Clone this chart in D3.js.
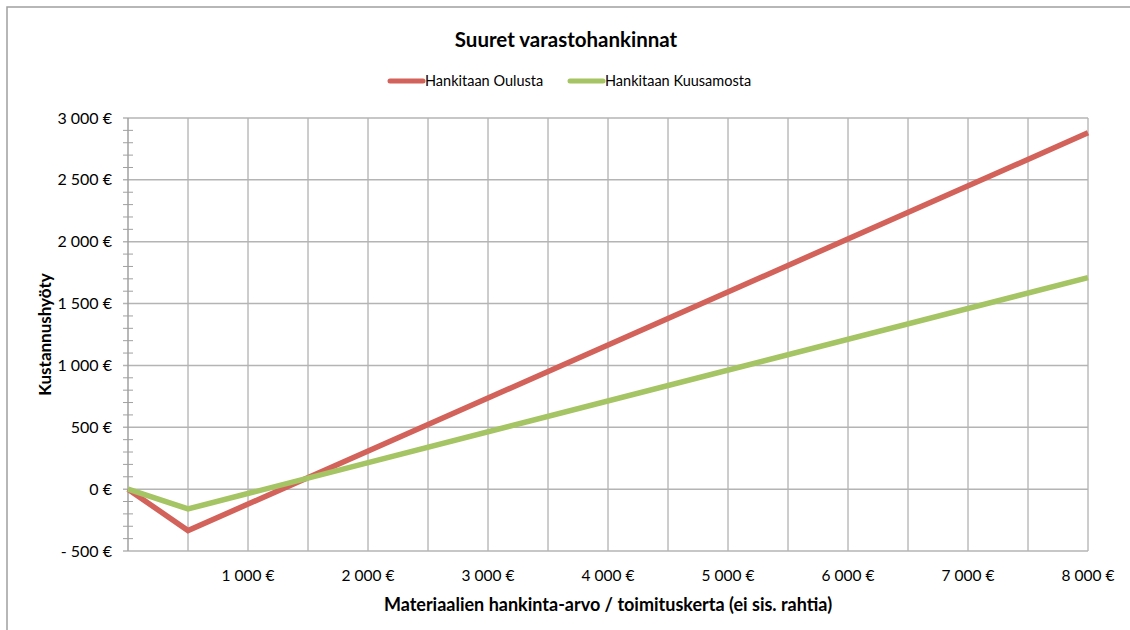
<html>
<head>
<style>
  body { margin: 0; background: #fff; }
  text { font-family: Lato, "Open Sans", sans-serif; fill: #000; }
</style>
</head>
<body>
<script src="https://d3js.org/d3.v7.min.js"></script>
<script>

    // data
    var xValues = [0, 500, 8000];
    var oulusta = [0, -335, 2880];
    var kuusamosta = [0, -160, 1710];
    var seriesNames = ["Hankitaan Oulusta", "Hankitaan Kuusamosta"];
    var seriesColors = ["#d2625a", "#a5c463"];
    var yTicks = [-500, 0, 500, 1000, 1500, 2000, 2500, 3000];
    var xTickLabels = [1000, 2000, 3000, 4000, 5000, 6000, 7000, 8000];

    var width = 1130, height = 630;
    var margin = {left: 128, right: 42, top: 118, bottom: 79};

    var svg = d3.select("body").append("svg").attr("width", width).attr("height", height);

    // outer chart border (only top and left are visible in the frame)
    svg.append("rect").attr("x", 7).attr("y", 7).attr("width", width).attr("height", height)
        .attr("fill", "none").attr("stroke", "#a0a0a0").attr("stroke-width", 1.5);

    var x = d3.scaleLinear().domain([0, 8000]).range([margin.left, width - margin.right]);
    var y = d3.scaleLinear().domain([-500, 3000]).range([height - margin.bottom, margin.top]);

    var fmt = function (v) {
        var s = d3.format(",")(Math.abs(v)).replace(/,/g, " ");
        return (v < 0 ? "- " : "") + s + " €";
    };

    // vertical gridlines every 500
    svg.append("g").selectAll("line").data(d3.range(500, 8001, 500)).enter().append("line")
        .attr("x1", function (d) { return x(d); }).attr("x2", function (d) { return x(d); })
        .attr("y1", y(3000)).attr("y2", y(-500))
        .attr("stroke", "#9a9a9a").attr("stroke-width", 1);

    // horizontal gridlines
    svg.append("g").selectAll("line").data(yTicks).enter().append("line")
        .attr("x1", x(0) - 5).attr("x2", x(8000))
        .attr("y1", function (d) { return y(d); }).attr("y2", function (d) { return y(d); })
        .attr("stroke", "#b4b4b4").attr("stroke-width", 1.5);

    // minor ticks on y axis
    svg.append("g").selectAll("line").data(d3.range(-400, 3000, 100).filter(function (d) { return d % 500 !== 0; }))
        .enter().append("line")
        .attr("x1", x(0) - 5).attr("x2", x(0) + 5)
        .attr("y1", function (d) { return y(d); }).attr("y2", function (d) { return y(d); })
        .attr("stroke", "#a0a0a0").attr("stroke-width", 1);

    // y axis line
    svg.append("line").attr("x1", x(0)).attr("x2", x(0)).attr("y1", y(3000)).attr("y2", y(-500))
        .attr("stroke", "#a0a0a0").attr("stroke-width", 1.5);

    // y tick labels
    svg.append("g").selectAll("text").data(yTicks).enter().append("text")
        .attr("x", x(0) - 16).attr("y", function (d) { return y(d); })
        .attr("dy", "0.35em").attr("text-anchor", "end")
        .style("font-size", "16px")
        .text(fmt);

    // x tick labels
    svg.append("g").selectAll("text").data(xTickLabels).enter().append("text")
        .attr("x", function (d) { return x(d); }).attr("y", y(-500) + 25)
        .attr("dy", "0.35em").attr("text-anchor", "middle")
        .style("font-size", "15.5px")
        .text(fmt);

    // lines
    var line = d3.line()
        .x(function (d) { return x(d[0]); })
        .y(function (d) { return y(d[1]); });

    [oulusta, kuusamosta].forEach(function (vals, i) {
        svg.append("path")
            .datum(xValues.map(function (v, j) { return [v, vals[j]]; }))
            .attr("d", line)
            .attr("fill", "none")
            .attr("stroke", seriesColors[i])
            .attr("stroke-width", 5.5)
            .attr("stroke-linejoin", "miter");
    });

    // title
    svg.append("text").attr("x", 566).attr("y", 40).attr("dy", "0.35em")
        .attr("text-anchor", "middle").style("font-size", "20.5px").style("font-weight", "bold")
        .text("Suuret varastohankinnat");

    // legend
    var legendX = [390, 570];
    seriesNames.forEach(function (name, i) {
        svg.append("line").attr("x1", legendX[i]).attr("x2", legendX[i] + 33)
            .attr("y1", 81).attr("y2", 81)
            .attr("stroke", seriesColors[i]).attr("stroke-width", 5).attr("stroke-linecap", "round");
        svg.append("text").attr("x", legendX[i] + 35).attr("y", 81).attr("dy", "0.35em")
            .style("font-size", "14.5px").text(name);
    });

    // axis titles
    svg.append("text")
        .attr("transform", "translate(45," + ((y(3000) + y(-500)) / 2) + ") rotate(-90)")
        .attr("dy", "0.35em").attr("text-anchor", "middle")
        .style("font-size", "17px").style("font-weight", "bold")
        .text("Kustannushyöty");

    svg.append("text").attr("x", (x(0) + x(8000)) / 2).attr("y", 605).attr("dy", "0.35em")
        .attr("text-anchor", "middle").style("font-size", "18px").style("font-weight", "bold")
        .text("Materiaalien hankinta-arvo / toimituskerta (ei sis. rahtia)");

</script>
</body>
</html>
